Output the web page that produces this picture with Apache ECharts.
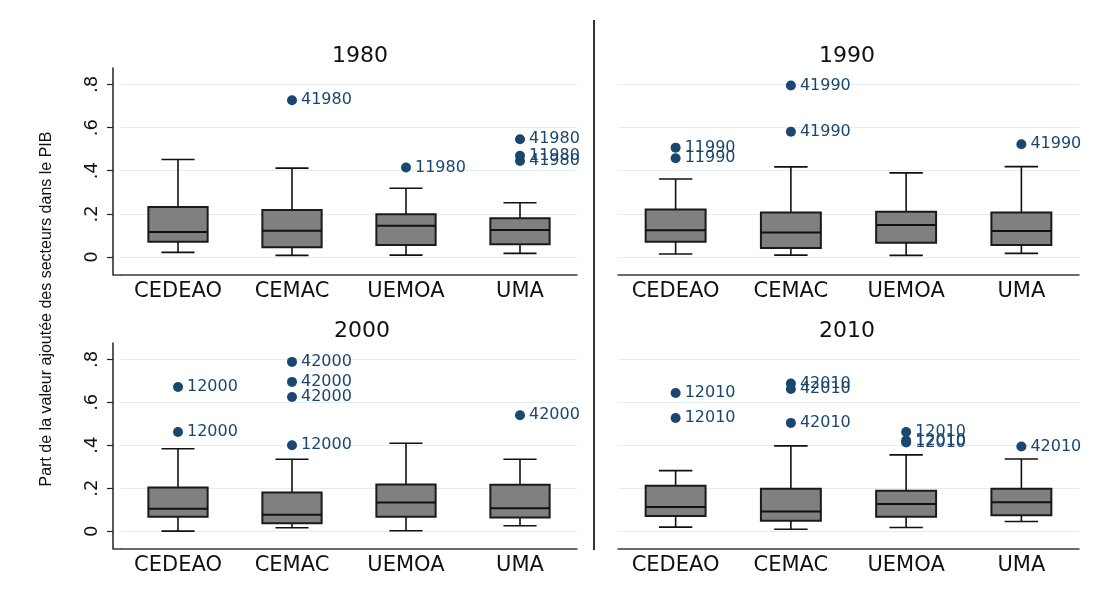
<!DOCTYPE html>
<html>
<head>
<meta charset="utf-8">
<script src="https://cdn.jsdelivr.net/npm/echarts@6/dist/echarts.min.js"></script>
<style>
  html, body { margin: 0; background: #fff; }
  #chart { width: 1115px; height: 596px; }
</style>
</head>
<body>
<div id="chart"></div>
<script>
const categories = ['CEDEAO', 'CEMAC', 'UEMOA', 'UMA']
const years = ['1980', '1990', '2000', '2010']
const tickValues = [0, 0.2, 0.4, 0.6, 0.8]
const tickLabels = ['0', '.2', '.4', '.6', '.8']
const yTitle = 'Part de la valeur ajoutée des secteurs dans le PIB'

// [moustache basse, q1, médiane, q3, moustache haute] par groupe
const box1980 = [
  [0.022, 0.071, 0.116, 0.232, 0.452],
  [0.008, 0.046, 0.122, 0.218, 0.412],
  [0.009, 0.056, 0.145, 0.198, 0.319],
  [0.017, 0.059, 0.125, 0.180, 0.252]
]
const box1990 = [
  [0.014, 0.071, 0.124, 0.220, 0.362],
  [0.009, 0.042, 0.114, 0.207, 0.418],
  [0.008, 0.066, 0.149, 0.210, 0.390],
  [0.017, 0.056, 0.121, 0.206, 0.419]
]
const box2000 = [
  [0.000, 0.067, 0.104, 0.203, 0.384],
  [0.016, 0.037, 0.076, 0.180, 0.335],
  [0.002, 0.067, 0.133, 0.217, 0.409],
  [0.025, 0.064, 0.107, 0.216, 0.335]
]
const box2010 = [
  [0.019, 0.071, 0.112, 0.212, 0.282],
  [0.009, 0.048, 0.091, 0.197, 0.397],
  [0.017, 0.067, 0.126, 0.188, 0.355],
  [0.045, 0.074, 0.135, 0.198, 0.336]
]

// valeurs extrêmes : [groupe, valeur, étiquette]
const out1980 = [[1, 0.727, '41980'], [2, 0.415, '11980'], [3, 0.546, '41980'], [3, 0.469, '11980'], [3, 0.445, '41980']]
const out1990 = [[0, 0.507, '11990'], [0, 0.458, '11990'], [1, 0.795, '41990'], [1, 0.581, '41990'], [3, 0.523, '41990']]
const out2000 = [[0, 0.671, '12000'], [0, 0.462, '12000'], [1, 0.788, '42000'], [1, 0.695, '42000'], [1, 0.625, '42000'], [1, 0.400, '12000'], [3, 0.540, '42000']]
const out2010 = [[0, 0.643, '12010'], [0, 0.527, '12010'], [1, 0.687, '42010'], [1, 0.662, '42010'], [1, 0.504, '42010'], [2, 0.462, '12010'], [2, 0.422, '12010'], [2, 0.413, '12010'], [3, 0.394, '42010']]

const boxes = [box1980, box1990, box2000, box2010]
const outliers = [out1980, out1990, out2000, out2010]

const chart = echarts.init(document.getElementById('chart'))
const navy = '#1a476f'
const font = 'DejaVu Sans'

// dessin d'une boîte à moustaches
function renderBox(params, api) {
  const i = api.value(0)
  const p = [1, 2, 3, 4, 5].map(k => api.coord([i, api.value(k)]))
  const cx = p[0][0]
  const band = api.size([1, 0])[0]
  const bw = band * 0.52
  const cw = band * 0.29
  const line = (x1, y1, x2, y2, w) => ({
    type: 'line',
    shape: { x1, y1, x2, y2 },
    style: { stroke: '#111', lineWidth: w }
  })
  return {
    type: 'group',
    children: [
      line(cx, p[0][1], cx, p[1][1], 1.6),
      line(cx, p[3][1], cx, p[4][1], 1.6),
      line(cx - cw / 2, p[0][1], cx + cw / 2, p[0][1], 1.6),
      line(cx - cw / 2, p[4][1], cx + cw / 2, p[4][1], 1.6),
      {
        type: 'rect',
        shape: { x: cx - bw / 2, y: p[3][1], width: bw, height: p[1][1] - p[3][1] },
        style: { fill: '#808080', stroke: '#1a1a1a', lineWidth: 2 }
      },
      line(cx - bw / 2, p[2][1], cx + bw / 2, p[2][1], 2)
    ]
  }
}

const grids = [
  { left: 121, top: 68, width: 456, height: 207 },
  { left: 618, top: 68, width: 461, height: 207 },
  { left: 121, top: 343, width: 456, height: 206 },
  { left: 618, top: 343, width: 461, height: 206 }
]
const titlePos = [[355, 40], [842, 40], [357, 315], [842, 315]]

const xAxis = []
const yAxis = []
const series = []
const title = []

years.forEach((yr, k) => {
  const isLeft = k % 2 === 0
  title.push({
    text: yr,
    left: titlePos[k][0],
    top: titlePos[k][1],
    textAlign: 'center',
    textStyle: { fontFamily: font, fontSize: 22, fontWeight: 'normal', color: '#111' }
  })
  xAxis.push({
    type: 'category',
    gridIndex: k,
    data: categories,
    axisLine: { onZero: false, lineStyle: { color: '#3a3a3a', width: 1.5 } },
    axisTick: { show: false },
    axisLabel: { interval: 0, hideOverlap: false, fontFamily: font, fontSize: 21, color: '#111', margin: 6 }
  })
  yAxis.push({
    type: 'value',
    gridIndex: k,
    min: -0.083,
    max: 0.876,
    show: isLeft,
    offset: 8,
    splitLine: { show: false },
    axisLine: { show: true, lineStyle: { color: '#222', width: 1.5 } },
    axisTick: { show: true, length: 6, customValues: tickValues, lineStyle: { color: '#222', width: 1.2 } },
    axisLabel: {
      customValues: tickValues,
      rotate: 90,
      margin: 12,
      fontFamily: font,
      fontSize: 18,
      color: '#111',
      formatter: v => {
        const i = tickValues.findIndex(t => Math.abs(t - v) < 1e-6)
        return i >= 0 ? tickLabels[i] : ''
      }
    }
  })
  // lignes de grille
  series.push({
    type: 'scatter',
    xAxisIndex: k,
    yAxisIndex: k,
    data: [],
    z: 1,
    silent: true,
    markLine: {
      z: 1,
      silent: true,
      symbol: 'none',
      label: { show: false },
      lineStyle: { color: '#e4eef0', width: 1, type: 'solid' },
      data: tickValues.map(v => ({ yAxis: v }))
    }
  })
  series.push({
    type: 'custom',
    xAxisIndex: k,
    yAxisIndex: k,
    z: 3,
    renderItem: renderBox,
    encode: { x: 0, y: [1, 2, 3, 4, 5] },
    data: boxes[k].map((b, i) => [i].concat(b))
  })
  series.push({
    type: 'scatter',
    xAxisIndex: k,
    yAxisIndex: k,
    z: 4,
    symbolSize: 10,
    itemStyle: { color: navy, opacity: 1 },
    label: {
      show: true,
      position: 'right',
      distance: 4,
      color: navy,
      fontFamily: font,
      fontSize: 16,
      formatter: p => p.data[2]
    },
    data: outliers[k]
  })
})

chart.setOption({
  animation: false,
  backgroundColor: '#fff',
  title,
  grid: grids,
  xAxis,
  yAxis,
  series,
  graphic: [
    {
      type: 'line',
      shape: { x1: 594, y1: 20, x2: 594, y2: 550 },
      style: { stroke: '#333', lineWidth: 2 }
    },
    // raccord entre l'axe vertical décalé et l'axe horizontal
    { type: 'line', shape: { x1: 113, y1: 275, x2: 121, y2: 275 }, style: { stroke: '#3a3a3a', lineWidth: 1.5 } },
    { type: 'line', shape: { x1: 113, y1: 549, x2: 121, y2: 549 }, style: { stroke: '#3a3a3a', lineWidth: 1.5 } },
    {
      type: 'text',
      x: 47,
      y: 309,
      rotation: Math.PI / 2,
      style: {
        text: yTitle,
        fontFamily: 'Liberation Sans',
        fontSize: 16,
        fill: '#111',
        align: 'center',
        verticalAlign: 'middle'
      }
    }
  ]
})
</script>
</body>
</html>
